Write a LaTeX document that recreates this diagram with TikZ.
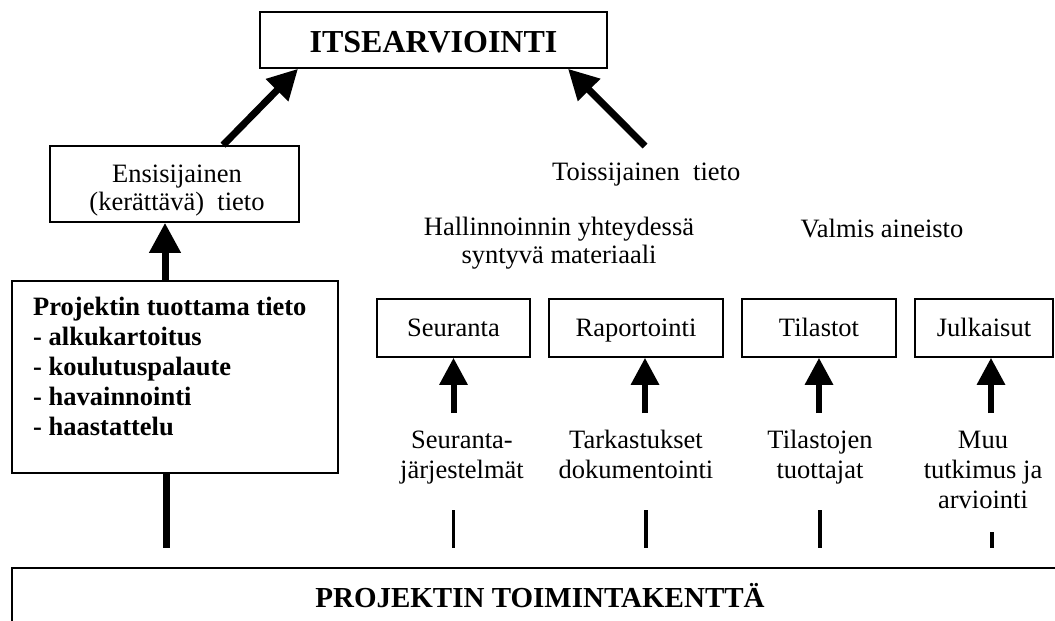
\documentclass[tikz,border=0pt]{standalone}
\usepackage{fontspec}
\setmainfont{Liberation Serif}
\usetikzlibrary{arrows.meta,calc}
\begin{document}
\begin{tikzpicture}[x=1pt,y=-1pt,
  box/.style={draw, line width=1.6pt, inner sep=0pt, font=\fontsize{26.5}{30}\selectfont},
  smallbox/.style={box, minimum height=58pt, text height=20pt, text depth=4pt},
  txt/.style={inner sep=0pt, align=center, font=\fontsize{26.5}{30}\selectfont},
  txtt/.style={inner sep=0pt, align=center, font=\fontsize{26.5}{28}\selectfont},
  lab/.style={inner xsep=0pt, inner ysep=14pt, align=center, anchor=north, font=\fontsize{26.5}{30}\selectfont},
  bigarrow/.style={line width=7pt, -{Triangle[width=30pt,length=30pt]}},
  smallarrow/.style={line width=6pt, -{Triangle[width=27pt,length=27pt]}},
  stem/.style={line width=7pt},
  stub/.style={line width=3.5pt}
]
\useasboundingbox (0,0) rectangle (1055,621);
\clip (0,0) rectangle (1055,621);

% top box
\node[box, minimum width=347pt, minimum height=56pt, text height=24pt, text depth=0pt, font=\fontsize{32}{36}\selectfont\bfseries] (itse) at (433.5,40) {ITSEARVIOINTI};

% primary info box
\node[box, minimum width=249pt, minimum height=76pt] (ens) at (174.5,184) {};
\node[txtt, anchor=north] (enstxt) at (177,162.4) {\strut Ensisijainen\\(kerättävä)\ \ tieto\strut};

% project box
\node[box, minimum width=326pt, minimum height=192pt] (proj) at (175,377) {};
\node[inner sep=0pt, align=left, anchor=north west, font=\fontsize{26.5}{30}\selectfont\bfseries] (projtxt) at (33,294)
  {\strut Projektin tuottama tieto\\- alkukartoitus\\- koulutuspalaute\\- havainnointi\\- haastattelu\strut};

% secondary info texts
\node[txt, anchor=base west] (toiss) at (552,180) {Toissijainen\ \ tieto};
\node[txtt, anchor=north] (hall) at (559,215.4) {\strut Hallinnoinnin yhteydessä\\syntyvä materiaali\strut};
\node[txt, anchor=base] (valm) at (882,237) {Valmis aineisto};

% four boxes
\node[smallbox, minimum width=153pt] (seur) at (453.5,328) {Seuranta};
\node[smallbox, minimum width=174pt] (rap) at (636,328) {Raportointi};
\node[smallbox, minimum width=154pt] (til) at (819,328) {Tilastot};
\node[smallbox, minimum width=138pt] (jul) at (984,328) {Julkaisut};

% source labels
\node[lab] (lab1) at (462,413) {\strut Seuranta-\\järjestelmät\strut};
\node[lab] (lab2) at (636,413) {\strut Tarkastukset\\dokumentointi\strut};
\node[lab] (lab3) at (820,413) {\strut Tilastojen\\tuottajat\strut};
\node[lab] (lab4) at (983,413) {\strut Muu\\tutkimus ja\\arviointi\strut};

% bottom field
\node[box, minimum width=1056pt, minimum height=55pt, font=\fontsize{29}{33}\selectfont\bfseries] (bot) at (540,595.5) {PROJEKTIN TOIMINTAKENTTÄ};

% connectors
\coordinate (tt) at (645,146);
\draw[bigarrow] ([xshift=48.5pt]ens.north) -- ([xshift=-135.5pt]itse.south);
\draw[bigarrow] (tt) -- ([xshift=134.5pt]itse.south);
\draw[bigarrow] ($(proj.north)+(-10,0)$) -- ($(proj.north |- ens.south)+(-10,0)$);
\draw[stem, shorten >=19.5pt] ($(proj.south)+(-9,0)$) -- ($(proj.south |- bot.north)+(-9,0)$);

\draw[smallarrow] (lab1.north -| seur.south) -- (seur.south);
\draw[smallarrow] ($(lab2.north)+(9,0)$) -- ($(rap.south)+(9,0)$);
\draw[smallarrow] (lab3.north -| til.south) -- (til.south);
\draw[smallarrow] ($(lab4.north)+(8,0)$) -- ($(jul.south)+(7,0)$);

\draw[stub, shorten <=9pt, shorten >=19.5pt] (lab1.south -| seur.south) -- (bot.north -| seur.south);
\draw[stub, shorten <=9pt, shorten >=19.5pt] ($(lab2.south)+(10,0)$) -- ($(lab2.south |- bot.north)+(10,0)$);
\draw[stub, shorten <=9pt, shorten >=19.5pt] (lab3.south) -- (lab3.south |- bot.north);
\draw[stub, shorten <=1pt, shorten >=19.5pt] ($(lab4.south)+(9,0)$) -- ($(lab4.south |- bot.north)+(9,0)$);
\end{tikzpicture}
\end{document}
